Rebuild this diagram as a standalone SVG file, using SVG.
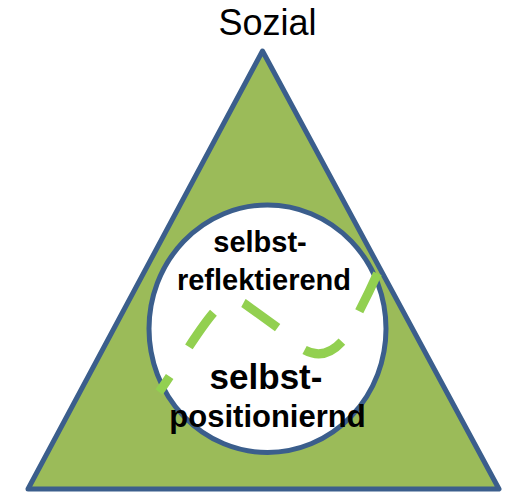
<svg xmlns="http://www.w3.org/2000/svg" width="520" height="494" viewBox="0 0 520 494">
  <style>
    .outline { stroke: #3B5E8C; stroke-width: 5; stroke-linejoin: round; }
    .lbl { font-family: "Liberation Sans", Arial, sans-serif; fill: #000; text-anchor: middle; }
    .bold { font-weight: bold; }
    .dash { fill: none; stroke: #92D050; stroke-width: 9; stroke-dasharray: 42 35; stroke-dashoffset: 23; }
  </style>
  <rect width="520" height="494" fill="#FFFFFF"/>
  <g id="sozial-label">
    <text class="lbl" x="267.5" y="35" font-size="36">Sozial</text>
  </g>
  <g id="triangle">
    <polygon class="outline" points="262.5,51 499,489 28,489" fill="#9BBB59"/>
  </g>
  <g id="circle">
    <ellipse class="outline" cx="267.5" cy="328.75" rx="118.5" ry="123.75" fill="#FFFFFF"/>
  </g>
  <g id="connectors">
    <path class="dash" d="M159,392 C175,370 198,330 215,311 Q229,294 245,304 L285,333 Q318,372 345,338 C356,318 368,295 379,270"/>
  </g>
  <g id="selbstreflektierend">
    <text class="lbl bold" x="260" y="252" font-size="29">selbst-</text>
    <text class="lbl bold" x="264" y="290" font-size="29">reflektierend</text>
  </g>
  <g id="selbstpositionierend">
    <text class="lbl bold" x="266" y="389" font-size="35">selbst-</text>
    <text class="lbl bold" x="267.5" y="427" font-size="31">positioniernd</text>
  </g>
</svg>
